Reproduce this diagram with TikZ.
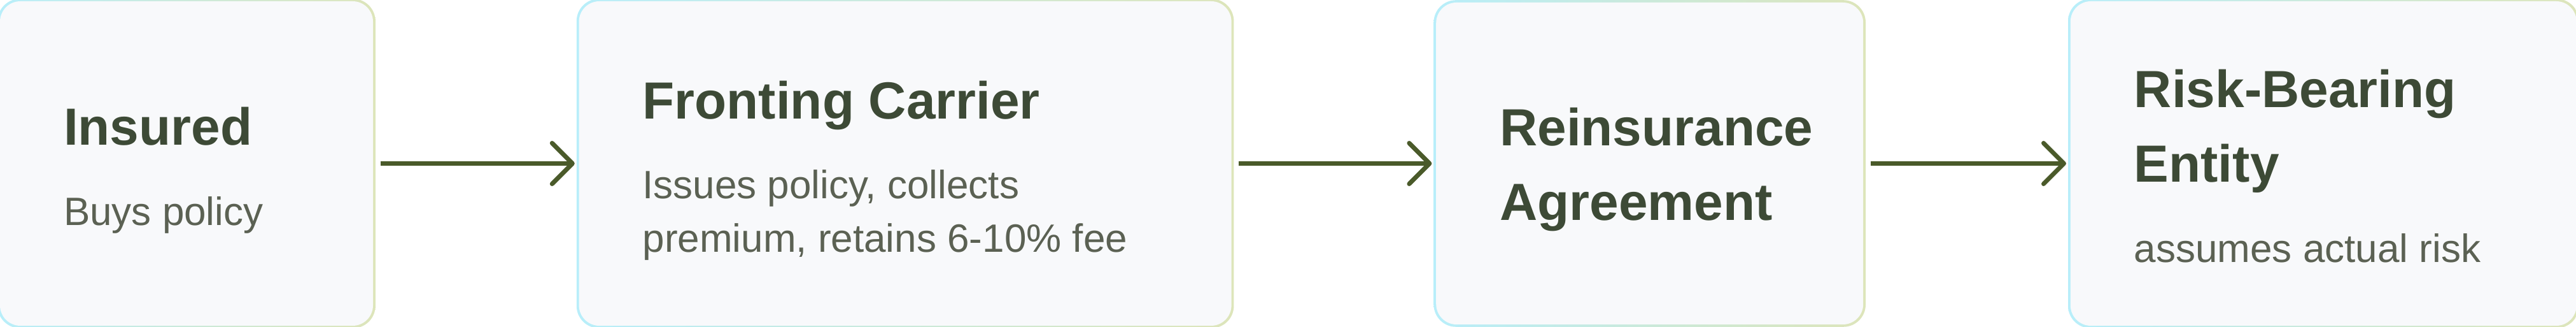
\documentclass[tikz,border=0pt]{standalone}
\usepackage{fontspec}
\setmainfont{Liberation Sans}
\usepackage{xcolor}
\usepackage{tikz}
\usetikzlibrary{
  	positioning,
  	arrows.meta,
  	calc,
  	backgrounds
  }
\definecolor{titlecol}{HTML}{3D4A36}
\definecolor{bodycol}{HTML}{5B6153}
\definecolor{arrowcol}{HTML}{4A5A2A}
\definecolor{boxfill}{HTML}{F8F9FB}
\definecolor{bordcyan}{HTML}{B8EEFA}
\definecolor{bordolive}{HTML}{DDE5BA}
\tikzstyle{card}=[rectangle,fill=boxfill,rounded corners=8pt,minimum height=127.25pt,inner sep=0pt]
\tikzstyle{title}=[inner sep=0pt,anchor=base west,align=left,text=titlecol,font=\fontsize{20.5}{29.25}\selectfont\bfseries]
\tikzstyle{body}=[inner sep=0pt,anchor=base west,align=left,text=bodycol,font=\fontsize{15.5}{21}\selectfont]
\tikzstyle{flow}=[draw=arrowcol,line width=1.75pt,shorten <=2.75pt,shorten >=1.5pt,-{Straight Barb[length=8pt,width=16pt,round]}]

\begin{document}
\begin{tikzpicture}
  \useasboundingbox (0,0) rectangle (1011.75pt,128.25pt);
  \node [card, minimum width=146.5pt] (ins) at (73.25pt,64.125pt) {};
  \node [card, minimum width=256.25pt, right=80.5pt of ins] (fro) {};
  \node [card, minimum width=167.75pt, minimum height=126.25pt, right=80pt of fro] (rei) {};
  \node [card, minimum width=198.75pt, right=81pt of rei] (rbe) {};
%
  \begin{scope}[on background layer]
  \foreach \n in {ins,fro,rei,rbe}
    \shade [rounded corners=8.75pt, left color=bordcyan, right color=bordolive]
      ($(\n.south west)+(-0.75pt,-0.75pt)$) rectangle
      ($(\n.north east)+(0.75pt,0.75pt)$);
  \end{scope}
%
  % base of a two-line node = baseline of its last line
  \node [title] (ins-t) at ($(ins.west)+(25pt,7.125pt)$) {Insured};
  \node [body] (ins-b) at ($(ins.west)+(25pt,-24.375pt)$) {Buys policy};
  \node [title] (fro-t) at ($(fro.west)+(25pt,17.375pt)$) {Fronting Carrier};
  \node [body] (fro-b) at ($(fro.west)+(25pt,-34.875pt)$)
    {Issues policy, collects\\premium, retains 6-10\% fee};
  \node [title] (rei-t) at ($(rei.west)+(25pt,-22.375pt)$) {Reinsurance\\Agreement};
  \node [title] (rbe-t) at ($(rbe.west)+(25pt,-7.375pt)$) {Risk-Bearing\\Entity};
  \node [body] (rbe-b) at ($(rbe.west)+(25pt,-38.875pt)$) {assumes actual risk};
%
  \draw [flow] (ins.east) -- (fro.west);
  \draw [flow] (fro.east) -- (rei.west);
  \draw [flow] (rei.east) -- (rbe.west);
\end{tikzpicture}
\end{document}
